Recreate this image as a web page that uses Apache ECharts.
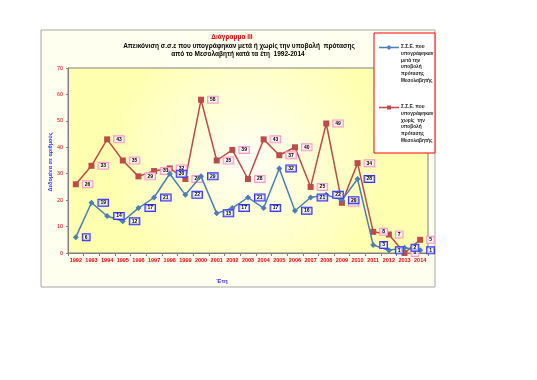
<!DOCTYPE html>
<html><head><meta charset="utf-8">
<script src="https://cdn.jsdelivr.net/npm/echarts@6/dist/echarts.min.js"></script>
<style>html,body{margin:0;padding:0;background:#fff}#c{width:537px;height:380px}</style>
</head><body><div id="c"></div>
<script>
var years = ['1992','1993','1994','1995','1996','1997','1998','1999','2000','2001','2002','2003','2004','2005','2006','2007','2008','2009','2010','2011','2012','2013','2014'];
var afterProposal = [6,19,14,12,17,21,30,22,29,15,17,21,17,32,16,21,22,20,28,3,1,2,1];
var withoutProposal = [26,33,43,35,29,31,32,28,58,35,39,28,43,37,40,25,49,19,34,8,7,0,5];
var seriesNames = ['Σ.Σ.Ε. που υπογράφηκαν μετά την υποβολή πρότασης Μεσολαβητής','Σ.Σ.Ε. που υπογράφηκαν χωρίς την υποβολή πρότασης Μεσολαβητής'];
var legendLines1 = ['Σ.Σ.Ε. που','υπογράφηκαν','μετά την','υποβολή','πρότασης','Μεσολαβητής'];
var legendLines2 = ['Σ.Σ.Ε. που','υπογράφηκαν','χωρίς  την','υποβολή','πρότασης','Μεσολαβητής'];
var yTicks = [0,10,20,30,40,50,60,70];
var titleText = 'Διάγραμμα ΙΙΙ';
var subText1 = 'Απεικόνιση σ.σ.ε που υπογράφηκαν μετά ή χωρίς την υποβολή  πρότασης';
var subText2 = 'από το Μεσολαβητή κατά τα έτη  1992-2014';
var yName = 'Δεδομένα σε αριθμούς';
var xName = 'Έτη';

var FONT = 'Liberation Sans, Arial, sans-serif';
var BLUE = '#4A7EBB', RED = '#BE4B48';
var chart = echarts.init(document.getElementById('c'));

function lbl(border){
  return {show:true, position:'right', distance:4, color:'#000', fontSize:5, fontWeight:'bold', fontFamily:FONT,
    backgroundColor:'rgba(255,255,255,0.6)', borderColor:border, borderWidth:1, padding:[1,2,0,2]};
}
function legendGraphic(y0, color, symbol, lines){
  var g = [];
  g.push({type:'line', shape:{x1:379,y1:y0,x2:399,y2:y0}, style:{stroke:color, lineWidth:1.5}, z:20});
  if(symbol==='diamond') g.push({type:'polygon', shape:{points:[[389,y0-2.5],[391.5,y0],[389,y0+2.5],[386.5,y0]]}, style:{fill:color}, z:21});
  else g.push({type:'rect', shape:{x:387,y:y0-2,width:4,height:4}, style:{fill:color}, z:21});
  for(var i=0;i<lines.length;i++){
    g.push({type:'text', x:401, y:y0-3+i*6.7, style:{text:lines[i], fill:'#222', font:'bold 4.8px '+FONT}, z:20});
  }
  return g;
}
var graphics = [
  {type:'rect', shape:{x:41,y:30,width:394,height:257}, style:{fill:'#FFFFF0', stroke:'#A8A8A8', lineWidth:1}, z:-10},
  {type:'rect', shape:{x:374,y:33,width:61,height:120}, style:{fill:'#fff', stroke:'#FF0000', lineWidth:1}, z:15},
  {type:'text', x:232, y:34, style:{text:titleText, fill:'#FF0000', font:'bold 6.5px '+FONT, textAlign:'center'}, z:20},
  {type:'text', x:239, y:43, style:{text:subText1, fill:'#000', font:'bold 6.5px '+FONT, textAlign:'center'}, z:20},
  {type:'text', x:238, y:51, style:{text:subText2, fill:'#000', font:'bold 6.5px '+FONT, textAlign:'center'}, z:20},
  {type:'text', x:222, y:278, style:{text:xName, fill:'#3333FF', font:'bold 6px '+FONT, textAlign:'center'}, z:20},
  {type:'text', x:50, y:162, rotation:Math.PI/2, style:{text:yName, fill:'#3333FF', font:'bold 5.5px '+FONT, textAlign:'center', textVerticalAlign:'middle'}, z:20}
].concat(legendGraphic(47.5, BLUE, 'diamond', legendLines1)).concat(legendGraphic(107.5, RED, 'rect', legendLines2));

chart.setOption({
  animation:false,
  textStyle:{fontFamily:FONT},
  graphic:graphics,
  grid:{left:68, top:68, right:109, bottom:127, show:true, borderColor:'#808080', borderWidth:1,
    backgroundColor:{type:'radial', x:0.5, y:0.5, r:0.75, colorStops:[{offset:0,color:'#FFFFF6'},{offset:1,color:'#FFFFB0'}]}},
  xAxis:{type:'category', data:years, boundaryGap:true,
    axisLine:{lineStyle:{color:'#808080'}}, axisTick:{show:true, length:3, lineStyle:{color:'#808080'}},
    axisLabel:{color:'#FF0000', fontSize:5.5, fontWeight:'bold', margin:4, interval:0}},
  yAxis:{type:'value', min:0, max:70, interval:10,
    axisLine:{show:true, lineStyle:{color:'#808080'}}, axisTick:{show:true, length:2, lineStyle:{color:'#808080'}},
    splitLine:{show:false},
    axisLabel:{color:'#FF0000', fontSize:5.5, margin:5, formatter:function(v){return yTicks.indexOf(v)>=0?String(v):'';}}},
  series:[
    {name:seriesNames[1], type:'line', data:withoutProposal, symbol:'rect', symbolSize:6,
      itemStyle:{color:RED}, lineStyle:{color:RED, width:1.5}, label:lbl('#FF99CC'), z:3},
    {name:seriesNames[0], type:'line', data:afterProposal, symbol:'diamond', symbolSize:6,
      itemStyle:{color:BLUE}, lineStyle:{color:BLUE, width:1.5}, label:lbl('#3333FF'), z:4}
  ]
});
</script></body></html>
